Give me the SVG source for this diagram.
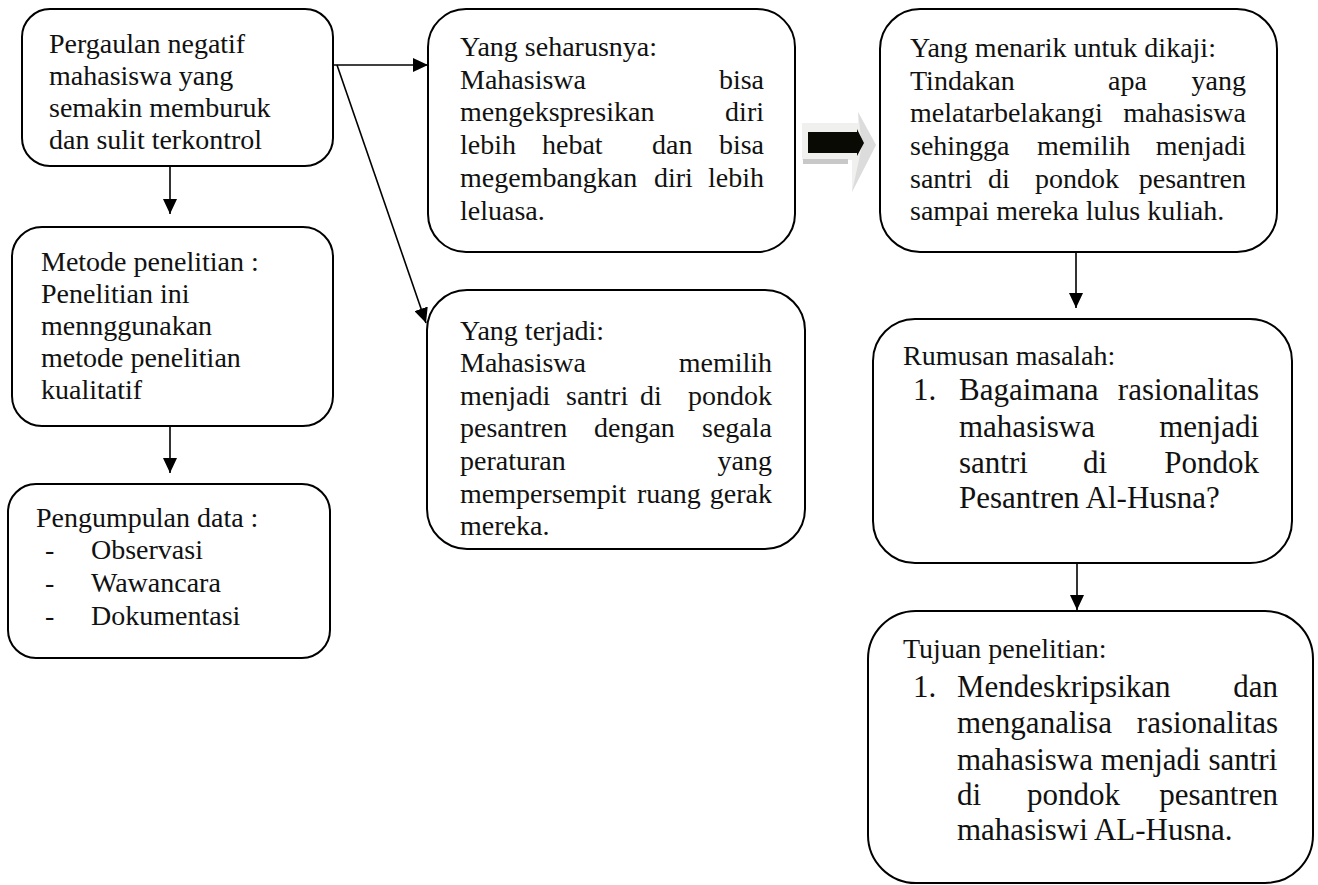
<svg xmlns="http://www.w3.org/2000/svg" width="1318" height="885" viewBox="0 0 1318 885">
<style>
.box{fill:#fff;stroke:#000;stroke-width:2}
.t{font-family:"Liberation Serif","Times New Roman",serif;font-size:28px;fill:#111}
.b{font-size:31px}
.e{text-anchor:end}
.c{stroke:#000;stroke-width:1.6;fill:none;marker-end:url(#ah)}
</style>
<defs>
<marker id="ah" markerUnits="userSpaceOnUse" markerWidth="15" markerHeight="14" refX="15" refY="7" orient="auto">
<path d="M0,0 L15,7 L0,14 z" fill="#000"/>
</marker>
</defs>
<rect x="0" y="0" width="1318" height="885" fill="#fff"/>

<g id="connectors">
<line class="c" x1="170" y1="166" x2="170" y2="214"/>
<line class="c" x1="170" y1="426" x2="170" y2="473"/>
<line class="c" x1="334" y1="65" x2="428" y2="65"/>
<line class="c" x1="337" y1="65" x2="426" y2="323"/>
<line class="c" x1="1076" y1="253" x2="1076" y2="308"/>
<line class="c" x1="1077" y1="563" x2="1077" y2="610"/>
</g>

<g id="block-arrow">
<polygon points="802,123 858,123 858,112 876,145 852,192 852,160 802,160" fill="#f0f0ee"/>
<polygon points="858,112 876,145 852,192 862,146" fill="#dcdcdc"/>
<rect x="803" y="159" width="45" height="5" fill="#c8c8c8"/>
<polygon points="808,132 857,132 857,129 864,143 857,156 857,153 808,153" fill="#0a0a05"/>
</g>

<g id="n1">
<rect class="box" x="22" y="9" width="311" height="157" rx="28"/>
<text class="t" x="49" y="53">Pergaulan negatif</text>
<text class="t" x="49" y="85">mahasiswa yang</text>
<text class="t" x="49" y="117">semakin memburuk</text>
<text class="t" x="49" y="149">dan sulit terkontrol</text>
</g>

<g id="n2">
<rect class="box" x="12" y="227" width="321" height="199" rx="30"/>
<text class="t" x="41" y="271">Metode penelitian :</text>
<text class="t" x="41" y="303">Penelitian ini</text>
<text class="t" x="41" y="335">mennggunakan</text>
<text class="t" x="41" y="367">metode penelitian</text>
<text class="t" x="41" y="399">kualitatif</text>
</g>

<g id="n3">
<rect class="box" x="8" y="484" width="322" height="174" rx="28"/>
<text class="t" x="36" y="527">Pengumpulan data :</text>
<text class="t" x="45" y="559">-</text><text class="t" x="91" y="559">Observasi</text>
<text class="t" x="45" y="592">-</text><text class="t" x="91" y="592">Wawancara</text>
<text class="t" x="45" y="625">-</text><text class="t" x="91" y="625">Dokumentasi</text>
</g>

<g id="n4">
<rect class="box" x="428" y="9" width="367" height="243" rx="38"/>
<text class="t" x="460" y="56">Yang seharusnya:</text>
<text class="t" x="460" y="89">Mahasiswa</text><text class="t e" x="764" y="89">bisa</text>
<text class="t" x="460" y="121">mengekspresikan</text><text class="t e" x="764" y="121">diri</text>
<text class="t" x="460" y="154">lebih</text><text class="t" x="542" y="154">hebat</text><text class="t" x="652" y="154">dan</text><text class="t e" x="764" y="154">bisa</text>
<text class="t" x="460" y="187">megembangkan</text><text class="t" x="654" y="187">diri</text><text class="t e" x="764" y="187">lebih</text>
<text class="t" x="460" y="220">leluasa.</text>
</g>

<g id="n5">
<rect class="box" x="427" y="290" width="378" height="259" rx="40"/>
<text class="t" x="460" y="340">Yang terjadi:</text>
<text class="t" x="460" y="372">Mahasiswa</text><text class="t e" x="772" y="372">memilih</text>
<text class="t" x="460" y="405">menjadi</text><text class="t" x="566" y="405">santri</text><text class="t" x="640" y="405">di</text><text class="t e" x="772" y="405">pondok</text>
<text class="t" x="460" y="437">pesantren</text><text class="t" x="594" y="437">dengan</text><text class="t e" x="772" y="437">segala</text>
<text class="t" x="460" y="470">peraturan</text><text class="t e" x="772" y="470">yang</text>
<text class="t" x="460" y="503">mempersempit</text><text class="t" x="637" y="503">ruang</text><text class="t e" x="772" y="503">gerak</text>
<text class="t" x="460" y="535">mereka.</text>
</g>

<g id="n6">
<rect class="box" x="880" y="9" width="397" height="243" rx="40"/>
<text class="t" x="910" y="57">Yang menarik untuk dikaji:</text>
<text class="t" x="910" y="90">Tindakan</text><text class="t" x="1108" y="90">apa</text><text class="t e" x="1246" y="90">yang</text>
<text class="t" x="910" y="122">melatarbelakangi</text><text class="t e" x="1246" y="122">mahasiswa</text>
<text class="t" x="910" y="155">sehingga</text><text class="t" x="1037" y="155">memilih</text><text class="t e" x="1246" y="155">menjadi</text>
<text class="t" x="910" y="188">santri</text><text class="t" x="988" y="188">di</text><text class="t" x="1035" y="188">pondok</text><text class="t e" x="1246" y="188">pesantren</text>
<text class="t" x="910" y="220">sampai mereka lulus kuliah.</text>
</g>

<g id="n7">
<rect class="box" x="873" y="319" width="419" height="244" rx="42"/>
<text class="t" x="903" y="365">Rumusan masalah:</text>
<text class="t b" x="913" y="400">1.</text>
<text class="t b" x="959" y="400">Bagaimana</text><text class="t b e" x="1259" y="400">rasionalitas</text>
<text class="t b" x="959" y="437">mahasiswa</text><text class="t b e" x="1259" y="437">menjadi</text>
<text class="t b" x="959" y="473">santri</text><text class="t b" x="1083" y="473">di</text><text class="t b e" x="1259" y="473">Pondok</text>
<text class="t b" x="959" y="508">Pesantren Al-Husna?</text>
</g>

<g id="n8">
<rect class="box" x="868" y="611" width="445" height="272" rx="48"/>
<text class="t" x="903" y="658">Tujuan penelitian:</text>
<text class="t b" x="913" y="697">1.</text>
<text class="t b" x="957" y="697">Mendeskripsikan</text><text class="t b e" x="1278" y="697">dan</text>
<text class="t b" x="957" y="733">menganalisa</text><text class="t b e" x="1278" y="733">rasionalitas</text>
<text class="t b" x="957" y="770">mahasiswa menjadi santri</text>
<text class="t b" x="957" y="805">di</text><text class="t b" x="1027" y="805">pondok</text><text class="t b e" x="1278" y="805">pesantren</text>
<text class="t b" x="957" y="840">mahasiswi AL-Husna.</text>
</g>
</svg>
